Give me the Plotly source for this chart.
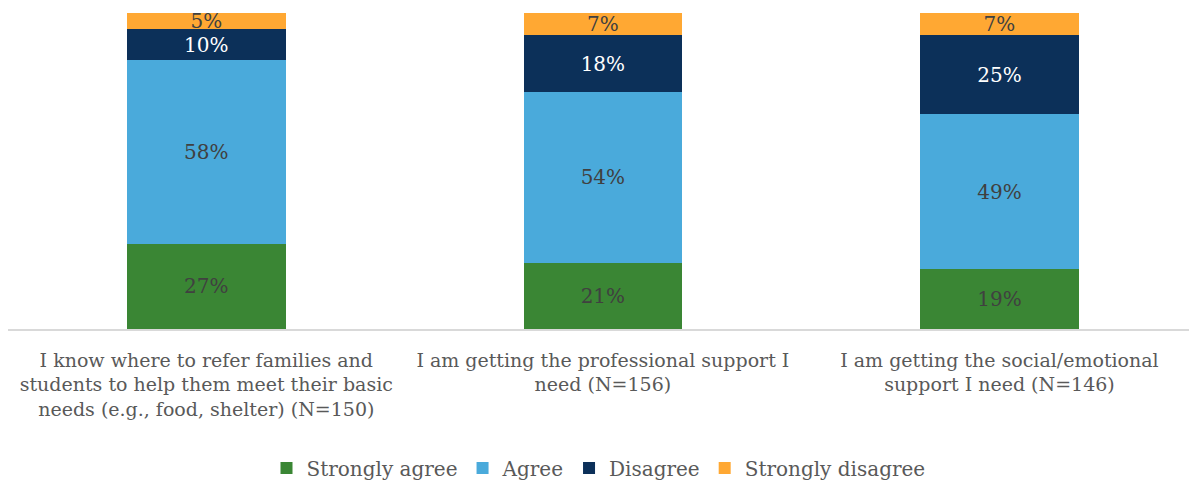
import plotly.graph_objects as go

categories = [
    "I know where to refer families and<br>students to help them meet their basic<br>needs (e.g., food, shelter) (N=150)",
    "I am getting the professional support I<br>need (N=156)",
    "I am getting the social/emotional<br>support I need (N=146)",
]
series_names = ["Strongly agree", "Agree", "Disagree", "Strongly disagree"]
strongly_agree = [27, 21, 19]
agree = [58, 54, 49]
disagree = [10, 18, 25]
strongly_disagree = [5, 7, 7]

values = [strongly_agree, agree, disagree, strongly_disagree]
colors = ["#3A8634", "#4AAADB", "#0C3059", "#FFA833"]
text_colors = ["#404040", "#404040", "#FFFFFF", "#404040"]

FONT = "DejaVu Serif"

fig = go.Figure()
x_idx = list(range(len(categories)))
for name, vals, col, tcol in zip(series_names, values, colors, text_colors):
    fig.add_trace(go.Bar(
        x=x_idx, y=vals, name=name,
        marker=dict(color=col, line=dict(width=0)),
        texttemplate="%{y}%", textposition="inside", insidetextanchor="middle",
        textangle=0, constraintext="none",
        insidetextfont=dict(family=FONT, size=20, color=tcol),
        width=0.40,
        hoverinfo="skip",
    ))

fig.update_layout(
    barmode="stack",
    width=1189, height=483,
    margin=dict(l=8, r=0, t=13, b=154),
    paper_bgcolor="white", plot_bgcolor="white",
    font=dict(family=FONT, color="#595959", size=19),
    showlegend=True,
    legend=dict(orientation="h", x=0.5, xanchor="center", yref="container", y=0.031,
                yanchor="middle", font=dict(family=FONT, size=20, color="#595959"),
                itemwidth=30, tracegroupgap=0, traceorder="normal"),
    xaxis=dict(
        range=[-0.5, 2.478], tickmode="array", tickvals=x_idx, ticktext=categories,
        showline=True, linecolor="#D9D9D9", linewidth=1.5, showgrid=False, zeroline=False,
        ticks="", ticklabelstandoff=13,
        tickfont=dict(family=FONT, size=19, color="#595959"),
    ),
    yaxis=dict(range=[0, 100], visible=False, showgrid=False, zeroline=False),
)

fig.write_html("out.html")
